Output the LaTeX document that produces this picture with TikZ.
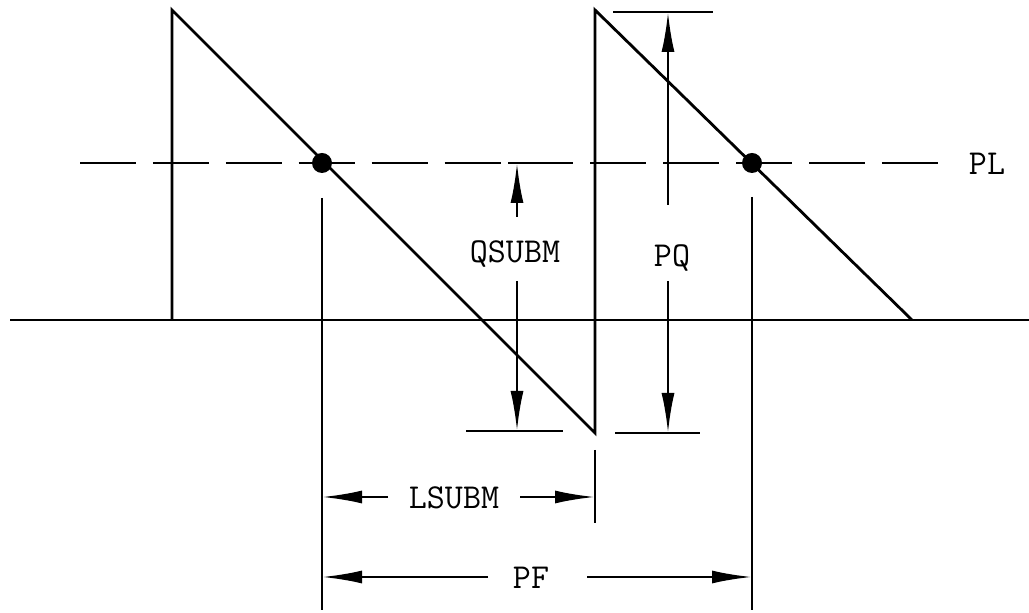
\documentclass[tikz,border=0pt]{standalone}
\usetikzlibrary{arrows.meta}
\tikzset{line/.style={line width=1.4pt},
 dimline/.style={line width=1.3pt},
 dimarrow/.style={dimline,-{Latex[length=20pt,width=6.5pt]}},
 tick/.style={line width=1.4pt},
 pldash/.style={line width=1.4pt,dash pattern=on 28pt off 8.45pt},
 lbl/.style={inner sep=0pt,font=\ttfamily\fontsize{17.5}{20}\selectfont},
 crossdot/.style={circle,fill=black,minimum size=10pt,inner sep=0pt}}

\begin{document}
\begin{tikzpicture}[x=0.5pt,y=-0.5pt]
\useasboundingbox (0,0) rectangle (1029,613);

\coordinate (base0) at (10,320);
\coordinate (base1) at (1029,320);
\coordinate (pl0) at (80,163);
\coordinate (pl1) at (938,163);

\coordinate (s0) at (172,320);
\coordinate (s1) at (172,10);
\coordinate (s2) at (595,433);
\coordinate (s3) at (595,10);
\coordinate (s4) at (912,320);

\node[crossdot] (dotA) at (322,163) {};
\node[crossdot] (dotB) at (752,163) {};

\node[lbl] (pllbl) at (987,164) {PL};
\node[lbl] (qlbl) at (515,254) {QSUBM};
\node[lbl] (pqlbl) at (672,258) {PQ};
\node[lbl] (llbl) at (454,498) {LSUBM};
\node[lbl] (pflbl) at (531,578) {PF};

\draw[line] (base0)--(base1);
\draw[pldash] (pl0)--(pl1);
\draw[line] (s0)--(s1)--(s2)--(s3)--(s4);

\coordinate (extA0) at (322,198);
\coordinate (extA1) at (322,610);
\coordinate (extB0) at (752,197);
\coordinate (extB1) at (752,610);
\coordinate (extC0) at (595,450);
\coordinate (extC1) at (595,523);
\draw[dimline] (extA0)--(extA1);
\draw[dimline] (extB0)--(extB1);
\draw[dimline] (extC0)--(extC1);

\coordinate (qtickL) at (508,163);
\coordinate (qtickR) at (565,163);
\coordinate (qbotL) at (466,431);
\coordinate (qbotR) at (563,431);
\coordinate (pqtopL) at (613,12);
\coordinate (pqtopR) at (713,12);
\coordinate (pqbotL) at (615,433);
\coordinate (pqbotR) at (700,433);
\draw[tick] (qtickL)--(qtickR);
\draw[tick] (qbotL)--(qbotR);
\draw[tick] (pqtopL)--(pqtopR);
\draw[tick] (pqbotL)--(pqbotR);

\coordinate (q1) at (517,217);
\coordinate (q2) at (517,163);
\coordinate (q3) at (517,281);
\coordinate (q4) at (517,431);
\draw[dimarrow] (q1)--(q2);
\draw[dimarrow] (q3)--(q4);

\coordinate (pq1) at (668,205);
\coordinate (pq2) at (668,12);
\coordinate (pq3) at (668,281);
\coordinate (pq4) at (668,433);
\draw[dimarrow] (pq1)--(pq2);
\draw[dimarrow] (pq3)--(pq4);

\coordinate (l1) at (388,497);
\coordinate (l2) at (322,497);
\coordinate (l3) at (520,497);
\coordinate (l4) at (595,497);
\draw[dimarrow] (l1)--(l2);
\draw[dimarrow] (l3)--(l4);

\coordinate (pf1) at (488,577);
\coordinate (pf2) at (322,577);
\coordinate (pf3) at (587,577);
\coordinate (pf4) at (752,577);
\draw[dimarrow] (pf1)--(pf2);
\draw[dimarrow] (pf3)--(pf4);
\end{tikzpicture}
\end{document}
